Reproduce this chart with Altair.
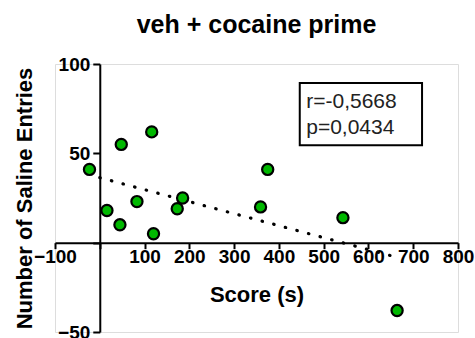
import altair as alt
import pandas as pd

# Data
score = [-23, 48, 116, 16, 45, 83, 120, 185, 173, 375, 359, 543, 664]
entries = [41, 55, 62, 18, 10, 23, 5, 25, 19, 41, 20, 14, -38]

fit_x = [0, 664]
fit_y = [36.4, -8.2]

stats_text = ["r=-0,5668", "p=0,0434"]
stats_x = [461, 461]
stats_y = [75.3, 60.7]

box_x = [446.6]
box_x2 = [719.7]
box_y = [89.3]
box_y2 = [54.5]

x_ticks = [-100, 0, 100, 200, 300, 400, 500, 600, 700, 800]
y_ticks = [-50, 0, 50, 100]
x_domain = [-100, 800]
y_domain = [-50, 100]

W, H = 403, 268
FONT = "Liberation Sans"

pts = pd.DataFrame({"score": score, "entries": entries})
fit = pd.DataFrame({"score": fit_x, "entries": fit_y})
stats = pd.DataFrame({"t": stats_text, "x": stats_x, "y": stats_y})
box = pd.DataFrame({"x": box_x, "x2": box_x2, "y": box_y, "y2": box_y2})

x_off = -(H - H * (y_domain[1] - 0) / (y_domain[1] - y_domain[0]))
y_off = -(W * (0 - x_domain[0]) / (x_domain[1] - x_domain[0]))

xs = alt.Scale(domain=x_domain, nice=False, zero=False)
ys = alt.Scale(domain=y_domain, nice=False, zero=False)

x_axis = alt.Axis(
    values=x_ticks, orient="bottom", offset=x_off, title="Score (s)",
    labelExpr="datum.value == 0 ? '' : datum.label",
    labelFlush=False, labelOverlap=False, grid=False,
    tickSize=6, tickWidth=2, domainWidth=2, domainColor="black", tickColor="black",
    labelFont=FONT, labelFontSize=19, labelFontWeight="bold", labelColor="black",
    labelPadding=-1,
    titleFont=FONT, titleFontSize=22, titleFontWeight="bold", titleColor="black",
    titleX=W / 2, titleY=59, titleBaseline="alphabetic", titleAlign="center",
)
y_axis = alt.Axis(
    values=y_ticks, orient="left", offset=y_off, title="Number of Saline Entries",
    labelExpr="datum.value == 0 ? '' : datum.label",
    labelFlush=False, labelOverlap=False, grid=False,
    tickSize=7, tickWidth=2, domainWidth=2, domainColor="black", tickColor="black",
    labelFont=FONT, labelFontSize=19, labelFontWeight="bold", labelColor="black",
    labelPadding=3,
    titleFont=FONT, titleFontSize=22, titleFontWeight="bold", titleColor="black",
    titleX=-75, titleY=H / 2, titleAngle=-90, titleBaseline="middle", titleAlign="center",
)

line = alt.Chart(fit).mark_line(
    color="black", strokeWidth=3.2, strokeDash=[0.5, 11.5], strokeCap="round"
).encode(
    x=alt.X("score:Q", scale=xs, axis=x_axis),
    y=alt.Y("entries:Q", scale=ys, axis=y_axis),
)

rect = alt.Chart(box).mark_rect(
    fill="white", fillOpacity=0, stroke="black", strokeWidth=2
).encode(
    x=alt.X("x:Q", scale=xs), x2="x2:Q",
    y=alt.Y("y:Q", scale=ys), y2="y2:Q",
)

txt = alt.Chart(stats).mark_text(
    align="left", baseline="alphabetic", font=FONT, fontSize=21, color="#222222"
).encode(
    x=alt.X("x:Q", scale=xs), y=alt.Y("y:Q", scale=ys), text="t:N"
)

points = alt.Chart(pts).mark_point(
    filled=True, shape="circle", size=125, fill="#00b800", stroke="black",
    strokeWidth=2.2, opacity=1
).encode(
    x=alt.X("score:Q", scale=xs), y=alt.Y("entries:Q", scale=ys)
)

chart = alt.layer(line, rect, txt, points).properties(
    width=W, height=H,
    title=alt.TitleParams(
        "veh + cocaine prime", font=FONT, fontSize=25, fontWeight="bold",
        color="black", anchor="middle", frame="group", offset=-3,
        baseline="alphabetic",
    ),
    autosize=alt.AutoSizeParams(type="none"),
    padding={"left": 55, "top": 64, "right": 17, "bottom": 6},
).configure_view(stroke=None).configure(background="white")

chart.save("out.html", embed_options={"renderer": "svg", "actions": False})
